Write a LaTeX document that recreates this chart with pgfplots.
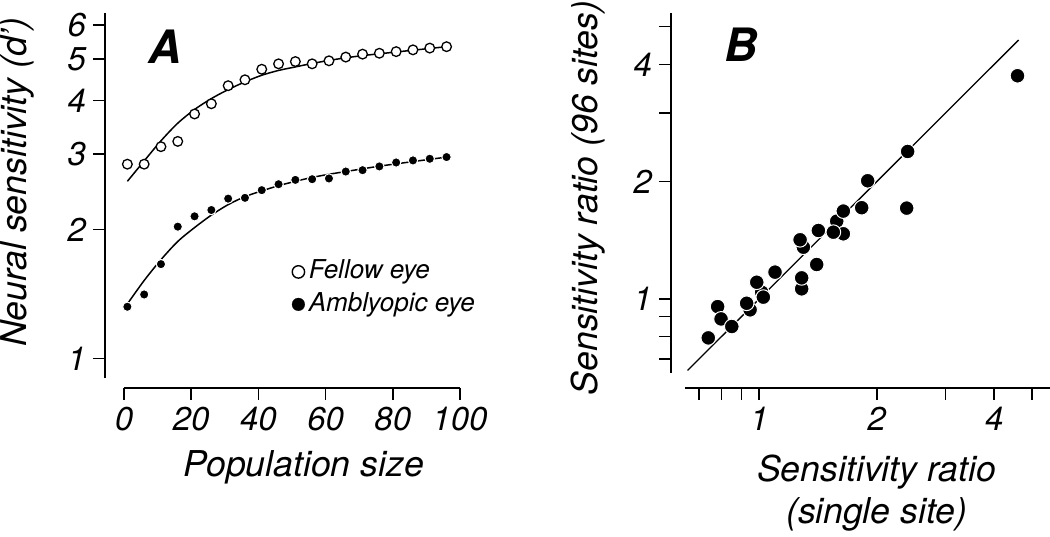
\documentclass[border=0pt]{standalone}
\usepackage{fontspec}
\setmainfont{TeX Gyre Heros}
\usepackage{pgfplots}
\pgfplotsset{compat=1.18}
\pgfplotsset{
  rstyle/.style={
    scale only axis,
    axis x line*=bottom, axis y line*=left,
    axis line style={line width=0.85pt},
    tick align=outside,
    major tick length=6pt,
    tick style={line width=0.85pt, black},
    xminorticks=false, yminorticks=false,
    /pgf/number format/assume math mode=true,
    tick label style={font=\fontsize{16.5}{19}\selectfont\itshape},
    label style={font=\fontsize{17.8}{21}\selectfont\itshape},
    clip=false,
  }
}
\begin{document}
\begin{tikzpicture}
\useasboundingbox (0,0) rectangle (525pt,-268pt);
% ---------------- Panel A ----------------
\begin{axis}[rstyle,
  at={(62pt,-189pt)}, anchor=south west,
  width=168pt, height=182.5pt,
  xmin=0, xmax=100, ymin=0.9, ymax=6.4,
  ymode=log,
  axis x line shift=4.85pt, axis y line shift=9.5pt,
  xtick={0,20,40,60,80,100},
  ytick={1,2,3,4,5,6}, yticklabels={1,2,3,4,5,6},
  ylabel={Neural sensitivity (d’)},
  xlabel={Population size},
  ylabel style={at={(axis description cs:-0.318,0.537)}, anchor=center},
  xlabel style={at={(axis description cs:0.535,-0.244)}, anchor=center},
  legend image code/.code={\draw[mark repeat=2,mark phase=2,#1] plot coordinates {(0pt,0pt) (3pt,0pt) (6pt,0pt)};},
  legend cell align=left,
  legend style={draw=none, fill=none, at={(axis description cs:0.481,0.34)}, anchor=north west,
    font=\fontsize{13}{15}\selectfont\itshape, row sep=2.65pt, column sep=1.2pt,
    nodes={inner sep=0.8pt, text height=9.5pt, text depth=2.5pt}},
]
% fitted curves
\addplot[line width=0.75pt, smooth, forget plot] coordinates {
 (1,2.59) (6,2.89) (11,3.22) (16,3.54) (21,3.81) (26,4.04) (31,4.24) (36,4.42)
 (41,4.58) (46,4.70) (51,4.79) (56,4.88) (61,4.96) (66,5.03) (71,5.09) (76,5.14)
 (81,5.19) (86,5.24) (91,5.29) (96,5.34)};
\addplot[line width=0.75pt, smooth, forget plot] coordinates {
 (1,1.34) (6,1.52) (11,1.70) (16,1.875) (21,2.02) (26,2.16) (31,2.285) (36,2.385)
 (41,2.46) (46,2.53) (51,2.59) (56,2.645) (61,2.69) (66,2.73) (71,2.77) (76,2.81)
 (81,2.845) (86,2.88) (91,2.915) (96,2.95)};
% data
\addplot[only marks, mark=*, mark size=2.42pt, forget plot,
  mark options={fill=white, draw=black, line width=0.65pt}] coordinates {
 (1,2.84) (6,2.84) (11,3.12) (16,3.21) (21,3.72) (26,3.93) (31,4.33) (36,4.47)
 (41,4.73) (46,4.87) (51,4.93) (56,4.87) (61,4.95) (66,5.05) (71,5.13) (76,5.155)
 (81,5.20) (86,5.25) (91,5.30) (96,5.34)};
\addplot[only marks, mark=*, mark size=2.35pt, forget plot,
  mark options={fill=black, draw=white, line width=0.5pt}] coordinates {
 (1,1.32) (6,1.41) (11,1.66) (16,2.03) (21,2.146) (26,2.22) (31,2.36) (36,2.37)
 (41,2.47) (46,2.55) (51,2.61) (56,2.62) (61,2.63) (66,2.73) (71,2.75) (76,2.806)
 (81,2.866) (86,2.898) (91,2.924) (96,2.951)};
\addlegendimage{only marks, mark=*, mark size=3.1pt, mark options={fill=white, draw=black, line width=0.7pt}}
\addlegendentry{Fellow eye}
\addlegendimage{only marks, mark=*, mark size=3.2pt, mark options={fill=black, draw=black, line width=0.1pt}}
\addlegendentry{Amblyopic eye}
\node[font=\fontsize{23}{27}\selectfont\bfseries\itshape] at (axis description cs:0.122,0.907) {A};
\end{axis}
% ---------------- Panel B ----------------
\begin{axis}[rstyle,
  at={(342.5pt,-186.5pt)}, anchor=south west,
  width=182.5pt, height=180pt,
  xmode=log, ymode=log,
  xmin=0.645, xmax=5.56, ymin=0.645, ymax=5.42,
  axis x line shift=7.35pt, axis y line shift=7pt,
  xtick={0.7,0.8,0.9,1,2,3,4,5}, xticklabels={,,,1,2,,4,},
  ytick={0.7,0.8,0.9,1,2,3,4,5}, yticklabels={,,,1,2,,4,},
  ylabel={Sensitivity ratio (96 sites)},
  xlabel={Sensitivity ratio\\(single site)},
  ylabel style={at={(axis description cs:-0.266,0.486)}, anchor=center},
  xlabel style={at={(axis description cs:0.525,-0.333)}, anchor=center, align=center},
]
\addplot[line width=0.65pt] coordinates {(0.655,0.655) (4.62,4.62)};
\addplot[only marks, mark=*, mark size=3.67pt,
  mark options={fill=black, draw=white, line width=0.5pt}] coordinates {
 (1.579,1.583) (1.642,1.469) (1.297,1.357) (1.284,1.061) (1.014,1.04) (1.024,1.01)
 (0.947,0.937) (0.782,0.955)
 (0.798,0.888) (0.85,0.849) (0.740,0.794) (0.928,0.974) (0.985,1.103) (1.097,1.171)
 (1.284,1.132) (1.403,1.225) (1.272,1.418) (1.417,1.498) (1.548,1.483) (1.642,1.68)
 (1.83,1.714) (1.896,2.01) (2.386,1.71) (2.40,2.39) (4.59,3.74)};
\node[font=\fontsize{23}{27}\selectfont\bfseries\itshape] at (axis description cs:0.155,0.911) {B};
\end{axis}
\end{tikzpicture}
\end{document}
